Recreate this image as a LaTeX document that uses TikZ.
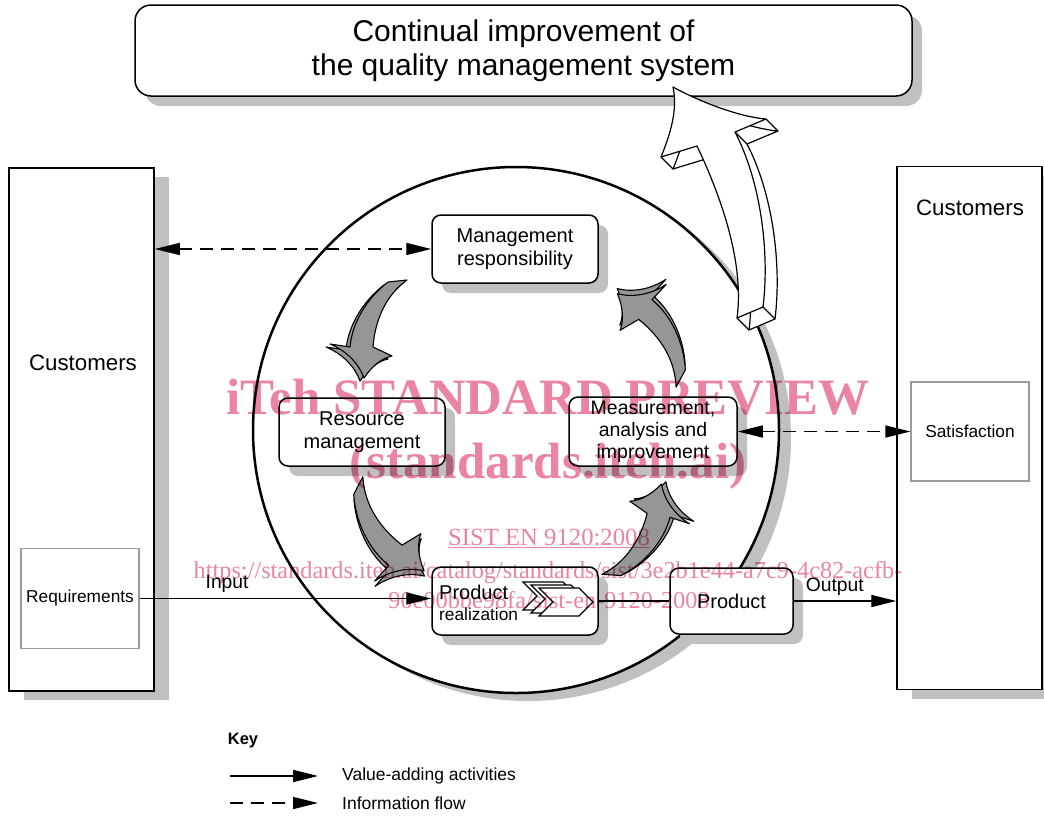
\documentclass[tikz,border=0pt]{standalone}
\usepackage{fontspec}
\setmainfont{Liberation Sans}
\newfontfamily\wmfont{Liberation Serif}
\usetikzlibrary{arrows.meta,shadows}
\definecolor{shadowgray}{RGB}{192,192,192}
\definecolor{arrowgray}{RGB}{150,150,150}
\definecolor{boxgray}{RGB}{155,155,155}
\definecolor{wmpink}{RGB}{234,132,162}
\begin{document}
\begin{tikzpicture}[x=1pt,y=-1pt,
  every node/.style={font=\fontsize{20}{23}\selectfont, align=center, inner sep=2pt},
  box/.style={draw, line width=1.5pt, rounded corners=9pt, fill=white},
  sh/.style={drop shadow={shadow xshift=10pt, shadow yshift=-10pt, fill=shadowgray, opacity=1}},
  bigsh/.style={drop shadow={shadow xshift=15pt, shadow yshift=-9pt, fill=shadowgray, opacity=1}},
  custbox/.style={draw, line width=1.5pt, fill=white, minimum width=145pt, minimum height=523pt},
  infobox/.style={draw=boxgray, line width=1.2pt, fill=white, minimum width=118pt, minimum height=100pt},
  small/.style={font=\fontsize{17.3}{20}\selectfont},
  flow/.style={line width=1.4pt, ->},
  info/.style={line width=1.4pt, dash pattern=on 13pt off 8pt},
  garrow/.style={fill=arrowgray, draw=black, line width=1.1pt, line join=round},
  warrow/.style={fill=white, draw=black, line width=1.2pt, line join=round},
  chev/.style={fill=white, draw=black, line width=1.1pt},
  wm/.style={text=wmpink, inner sep=0pt},
  >={Triangle[length=25pt,width=12pt]},
  grayarrow/.pic={
    \foreach \dx/\dy in {-4/3, 0/0}{
      \path[garrow, shift={(\dx,\dy)}] (-9,1) .. controls (-30,17) and (-45,42) .. (-47,66)
        -- (-67,63) .. controls (-50,70) and (-38,83) .. (-33,97)
        .. controls (-25,85) and (-15,77) .. (-5,75) -- (-24,66)
        .. controls (-22,40) and (-12,15) .. (10,-1) -- cycle;
    }
  }
]
\fill[white] (0,0) rectangle (1044,815);
\useasboundingbox (0,0) rectangle (1044,815);

% top box
\node[box, rounded corners=16pt, sh, minimum width=777pt, minimum height=91pt,
      font=\fontsize{30}{34}\selectfont] (cont) at (523.5,50.5)
      {Continual improvement of\\the quality management system};

% customers boxes
\node[custbox, bigsh] (lcust) at (81.5,429.5) {};
\node[font=\fontsize{22.3}{26}\selectfont] (lcustlbl) at (83,363) {Customers};
\node[infobox, small] (req) at (80,598.5) {Requirements};

\node[custbox, bigsh] (rcust) at (969.5,428) {};
\node[font=\fontsize{22.3}{26}\selectfont] (rcustlbl) at (970,208) {Customers};
\node[infobox, small, minimum height=99pt] (sat) at (970,431.5) {Satisfaction};

% circle
\node[circle, draw, line width=2.5pt, fill=white, minimum size=526pt, inner sep=0pt,
      drop shadow={shadow xshift=12pt, shadow yshift=-8pt, fill=shadowgray, opacity=1}] (circ) at (516,430) {};

% gray cycle arrows
\pic at (397,281) {grayarrow};
\pic[rotate=56.7, scale=1.05] at (358,486) {grayarrow};
\pic[rotate=170.3, scale=1.01] at (612,575) {grayarrow};
\pic[rotate=235.8, scale=1.03] at (681,378) {grayarrow};

% process boxes
\node[box, sh, minimum width=166pt, minimum height=68pt] (mgmt) at (515,249) {Management\\responsibility};
\node[box, sh, minimum width=166pt, minimum height=68pt] (res) at (362,432) {Resource\\management};
\node[box, sh, minimum width=168pt, minimum height=69pt, font=\fontsize{19.5}{22}\selectfont] (meas) at (653,431.5) {Measurement,\\analysis and\\improvement};
\node[box, sh, minimum width=166pt, minimum height=68pt] (prodr) at (515,601) {};
\node[box, sh, minimum width=123pt, minimum height=66pt] (prod) at (731.5,601) {Product};

\foreach \cx/\cy in {523/582, 531/585, 539/588}
  \path[chev] (\cx,\cy) -- ++(40,0) -- ++(14,14) -- ++(-14,14) -- ++(-40,0) -- ++(14,-14) -- cycle;
\node[anchor=west, inner sep=0pt] (prodrl1) at (439,592) {Product};
\node[anchor=west, inner sep=0pt, small] (prodrl2) at (439,614) {realization};

% connectors
\draw[info, <->] (mgmt.west -| lcust.east) -- (mgmt.west);
\draw[info, <->] (meas.east) -- (meas.east -| sat.west);
\draw[flow] (req.east) -- (req.east -| prodr.west) node[pos=0.3, above=3pt, font=\fontsize{19.3}{22}\selectfont] (inlbl) {Input};
\draw[line width=1.4pt] (prodr.east) -- (prod.west);
\draw[flow] (prod.east) -- (prod.east -| rcust.west) node[pos=0.4, above=3pt, font=\fontsize{19.3}{22}\selectfont] (outlbl) {Output};

% big white improvement arrow
\foreach \s in {0,0.5,...,12}
  \fill[white, shift={(\s,\s)}] (737,318) .. controls (745,260) and (718,190) .. (697,146) -- (661,157)
     .. controls (670,135) and (678,110) .. (673,87) .. controls (700,102) and (740,117) .. (766,119)
     -- (735,132) .. controls (760,180) and (770,250) .. (763,307) -- cycle;
\draw[warrow, fill=none, shift={(12,12)}] (737,318) .. controls (745,260) and (718,190) .. (697,146) -- (661,157)
     .. controls (670,135) and (678,110) .. (673,87) .. controls (700,102) and (740,117) .. (766,119)
     -- (735,132) .. controls (760,180) and (770,250) .. (763,307) -- cycle;
\draw[line width=1.2pt] (661,157) -- ++(12,12) (766,119) -- ++(12,12) (735,132) -- ++(12,12)
     (737,318) -- ++(12,12) (763,307) -- ++(12,12);
\path[warrow] (737,318) .. controls (745,260) and (718,190) .. (697,146) -- (661,157)
     .. controls (670,135) and (678,110) .. (673,87) .. controls (700,102) and (740,117) .. (766,119)
     -- (735,132) .. controls (760,180) and (770,250) .. (763,307) -- cycle;

% key
\node[font=\bfseries\fontsize{16.5}{19}\selectfont] (key) at (243,741) {Key};
\coordinate (k1s) at (230,776);
\coordinate (k1e) at (318,776);
\coordinate (k2s) at (230,803);
\coordinate (k2e) at (318,803);
\draw[flow] (k1s) -- (k1e);
\draw[info, ->] (k2s) -- (k2e);
\node[anchor=west, small, font=\fontsize{17.5}{20}\selectfont] (k1t) at (340,776) {Value-adding activities};
\node[anchor=west, small, font=\fontsize{17.5}{20}\selectfont] (k2t) at (340,803) {Information flow};

% watermark
\begin{scope}[blend mode=multiply]
\node[wm, anchor=base, font=\wmfont\bfseries\fontsize{51}{51}\selectfont] (wm1) at (548,414) {iTeh STANDARD PREVIEW};
\node[wm, anchor=base, font=\wmfont\bfseries\fontsize{51}{51}\selectfont] (wm2) at (548,478) {(standards.iteh.ai)};
\node[wm, anchor=base, font=\wmfont\fontsize{24.7}{25}\selectfont] (wm3) at (549,545) {\underline{SIST EN 9120:2008}};
\node[wm, anchor=base, font=\wmfont\fontsize{24.3}{25}\selectfont] (wm4) at (548,578) {https://standards.iteh.ai/catalog/standards/sist/3e2b1e44-a7c9-4c82-acfb-};
\node[wm, anchor=base, font=\wmfont\fontsize{24.3}{25}\selectfont] (wm5) at (549,608) {90e00bbe98fa/sist-en-9120-2008};
\end{scope}
\end{tikzpicture}
\end{document}
